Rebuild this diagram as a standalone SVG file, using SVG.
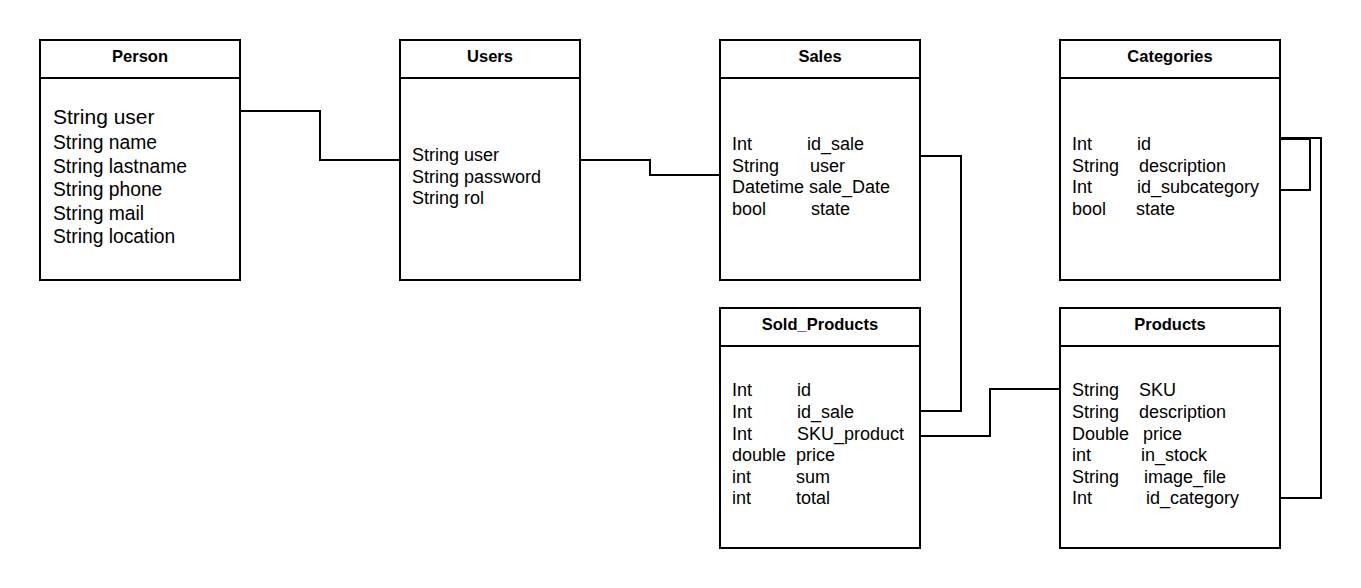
<svg xmlns="http://www.w3.org/2000/svg" width="1361" height="588" viewBox="0 0 1361 588">
<style>
.box{fill:#fff;stroke:#000;stroke-width:2}
.sep{stroke:#000;stroke-width:2}
.hdr{font-family:"Liberation Sans",Arial,sans-serif;font-weight:bold;font-size:16.5px;text-anchor:middle;fill:#000}
.att{font-family:"Liberation Sans",Arial,sans-serif;font-size:18px;fill:#000}
.att19{font-family:"Liberation Sans",Arial,sans-serif;font-size:19.3px;fill:#000}
.conn{fill:none;stroke:#000;stroke-width:2}
</style>
<rect width="1361" height="588" fill="#fff"/>
<g id="connectors">
<polyline class="conn" points="240,111 320,111 320,160 400,160"/>
<polyline class="conn" points="580,160 650,160 650,175 720,175"/>
<polyline class="conn" points="920,156 961,156 961,411 920,411"/>
<polyline class="conn" points="920,436 990,436 990,389 1060,389"/>
<polyline class="conn" points="1280,139 1310,139 1310,190 1280,190"/>
<polyline class="conn" points="1280,138 1321,138 1321,498 1280,498"/>
</g>
<g id="Person">
<rect class="box" x="40" y="40" width="200" height="240"/>
<line class="sep" x1="40" y1="78" x2="240" y2="78"/>
<text class="hdr" x="140" y="62">Person</text>
<text class="att19" x="53" y="124" style="font-size:21px">String user</text>
<text class="att19" x="53" y="149">String name</text>
<text class="att19" x="53" y="173">String lastname</text>
<text class="att19" x="53" y="196">String phone</text>
<text class="att19" x="53" y="220">String mail</text>
<text class="att19" x="53" y="243">String location</text>
</g>
<g id="Users">
<rect class="box" x="400" y="40" width="180" height="240"/>
<line class="sep" x1="400" y1="78" x2="580" y2="78"/>
<text class="hdr" x="490" y="62">Users</text>
<text class="att" x="412" y="161">String user</text>
<text class="att" x="412" y="183">String password</text>
<text class="att" x="412" y="204">String rol</text>
</g>
<g id="Sales">
<rect class="box" x="720" y="40" width="200" height="240"/>
<line class="sep" x1="720" y1="78" x2="920" y2="78"/>
<text class="hdr" x="820" y="62">Sales</text>
<text class="att" x="732" y="150">Int</text><text class="att" x="807" y="150">id_sale</text>
<text class="att" x="732" y="172">String</text><text class="att" x="810" y="172">user</text>
<text class="att" x="732" y="193">Datetime</text><text class="att" x="809" y="193">sale_Date</text>
<text class="att" x="732" y="215">bool</text><text class="att" x="811" y="215">state</text>
</g>
<g id="Categories">
<rect class="box" x="1060" y="40" width="220" height="240"/>
<line class="sep" x1="1060" y1="78" x2="1280" y2="78"/>
<text class="hdr" x="1170" y="62">Categories</text>
<text class="att" x="1072" y="150">Int</text><text class="att" x="1137" y="150">id</text>
<text class="att" x="1072" y="172">String</text><text class="att" x="1139" y="172">description</text>
<text class="att" x="1072" y="193">Int</text><text class="att" x="1137" y="193">id_subcategory</text>
<text class="att" x="1072" y="215">bool</text><text class="att" x="1136" y="215">state</text>
</g>
<g id="Sold_Products">
<rect class="box" x="720" y="308" width="200" height="240"/>
<line class="sep" x1="720" y1="346" x2="920" y2="346"/>
<text class="hdr" x="820" y="330">Sold_Products</text>
<text class="att" x="732" y="396">Int</text><text class="att" x="797" y="396">id</text>
<text class="att" x="732" y="418">Int</text><text class="att" x="797" y="418">id_sale</text>
<text class="att" x="732" y="440">Int</text><text class="att" x="797" y="440">SKU_product</text>
<text class="att" x="732" y="461">double</text><text class="att" x="796" y="461">price</text>
<text class="att" x="732" y="483">int</text><text class="att" x="796" y="483">sum</text>
<text class="att" x="732" y="504">int</text><text class="att" x="796" y="504">total</text>
</g>
<g id="Products">
<rect class="box" x="1060" y="308" width="220" height="240"/>
<line class="sep" x1="1060" y1="346" x2="1280" y2="346"/>
<text class="hdr" x="1170" y="330">Products</text>
<text class="att" x="1072" y="396">String</text><text class="att" x="1139" y="396">SKU</text>
<text class="att" x="1072" y="418">String</text><text class="att" x="1139" y="418">description</text>
<text class="att" x="1072" y="440">Double</text><text class="att" x="1143" y="440">price</text>
<text class="att" x="1072" y="461">int</text><text class="att" x="1141" y="461">in_stock</text>
<text class="att" x="1072" y="483">String</text><text class="att" x="1144" y="483">image_file</text>
<text class="att" x="1072" y="504">Int</text><text class="att" x="1146" y="504">id_category</text>
</g>
</svg>
